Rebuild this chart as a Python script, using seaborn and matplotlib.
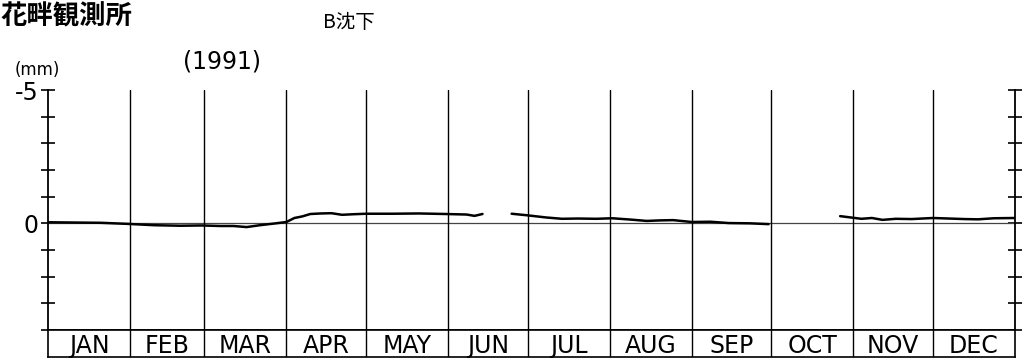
import numpy as np
import pandas as pd
import matplotlib
matplotlib.use("Agg")
import matplotlib.pyplot as plt
import seaborn as sns

# ---- data (day of year, settlement in mm; negative = upward) ----
seg1_days = [0, 10, 20, 30, 40, 50, 58, 65, 70, 75, 80, 86, 90, 93, 96, 99, 103, 107, 111, 115, 120, 130, 140, 150, 158, 161, 164]
seg1_vals = [-0.04, -0.03, -0.02, 0.02, 0.07, 0.09, 0.08, 0.10, 0.10, 0.14, 0.07, 0.0, -0.05, -0.20, -0.26, -0.35, -0.37, -0.38, -0.32, -0.34, -0.36, -0.36, -0.37, -0.35, -0.33, -0.28, -0.35]
seg2_days = [175, 181, 188, 194, 200, 207, 213, 220, 226, 231, 236, 243, 250, 257, 265, 272]
seg2_vals = [-0.36, -0.30, -0.22, -0.17, -0.18, -0.17, -0.19, -0.14, -0.09, -0.11, -0.12, -0.05, -0.06, -0.01, 0.0, 0.03]
seg3_days = [299, 303, 307, 311, 315, 320, 326, 334, 340, 346, 351, 357, 365]
seg3_vals = [-0.27, -0.22, -0.17, -0.20, -0.13, -0.17, -0.16, -0.20, -0.18, -0.16, -0.15, -0.19, -0.20]

months = ["JAN", "FEB", "MAR", "APR", "MAY", "JUN", "JUL", "AUG", "SEP", "OCT", "NOV", "DEC"]
month_starts = [0, 31, 59, 90, 120, 151, 181, 212, 243, 273, 304, 334, 365]
y_ticks = [-5, -4, -3, -2, -1, 0, 1, 2, 3, 4]
y_tick_labels = ["-5", "", "", "", "", "0", "", "", "", ""]

title = "花畔観測所"
subtitle = "B沈下"
year_label = "(1991)"
unit_label = "(mm)"

df = pd.concat([
    pd.DataFrame({"day": seg1_days, "val": seg1_vals, "seg": 1}),
    pd.DataFrame({"day": seg2_days, "val": seg2_vals, "seg": 2}),
    pd.DataFrame({"day": seg3_days, "val": seg3_vals, "seg": 3}),
])

sns.set_theme(style="white")
plt.rcParams["font.family"] = ["DejaVu Sans", "Noto Sans CJK JP"]
plt.rcParams["axes.unicode_minus"] = False

W, H = 1022, 358
fig = plt.figure(figsize=(W / 100, H / 100), dpi=100)

L, R = 48, 1015
top, bot = 90, 330
ax = fig.add_axes([L / W, (H - bot) / H, (R - L) / W, (bot - top) / H])

sns.lineplot(data=df, x="day", y="val", units="seg", estimator=None,
             color="black", linewidth=1.8, ax=ax, legend=False)

ax.set_xlim(0, 365)
ax.set_ylim(4, -5)
ax.axhline(0, color="#444444", linewidth=0.9, zorder=1)
for d in month_starts[1:-1]:
    ax.axvline(d, color="black", linewidth=1.0, zorder=1)

ax.spines["top"].set_visible(False)
for s in ["left", "right", "bottom"]:
    ax.spines[s].set_visible(True)
    ax.spines[s].set_color("black")
    ax.spines[s].set_linewidth(1.3)

ax.set_yticks(y_ticks)
ax.set_yticklabels(y_tick_labels)
ax.tick_params(axis="y", which="both", direction="inout", length=10, width=1.2,
               color="black", left=True, right=True, labelsize=17, pad=2, labelcolor="black")
ax.set_xticks([])
ax.set_xlabel("")
ax.set_ylabel("")

# month box
mb_top, mb_bot = 330, 357
axm = fig.add_axes([L / W, (H - mb_bot) / H, (R - L) / W, (mb_bot - mb_top) / H])
axm.set_xlim(0, 365)
axm.set_ylim(0, 1)
axm.set_xticks([])
axm.set_yticks([])
for s in axm.spines.values():
    s.set_visible(True)
    s.set_color("black")
    s.set_linewidth(1.2)
for d in month_starts[1:-1]:
    axm.axvline(d, color="black", linewidth=1.0)
for i, m in enumerate(months):
    c = (month_starts[i] + month_starts[i + 1]) / 2
    axm.text(c, 0.42, m, ha="center", va="center", fontsize=17, color="black")

# texts
fig.text(1 / W, 1 - 17 / H, title, fontsize=19, fontweight="bold",
         family=["Noto Sans CJK JP"], va="center", ha="left", color="black")
fig.text(323 / W, 1 - 22 / H, subtitle, fontsize=14,
         family=["Noto Sans CJK JP"], va="center", ha="left", color="black")
fig.text(183 / W, 1 - 62 / H, year_label, fontsize=17, va="center", ha="left", color="black")
fig.text(15 / W, 1 - 70 / H, unit_label, fontsize=12, va="center", ha="left", color="black")

fig.savefig("out.png", dpi=100, facecolor="white")
